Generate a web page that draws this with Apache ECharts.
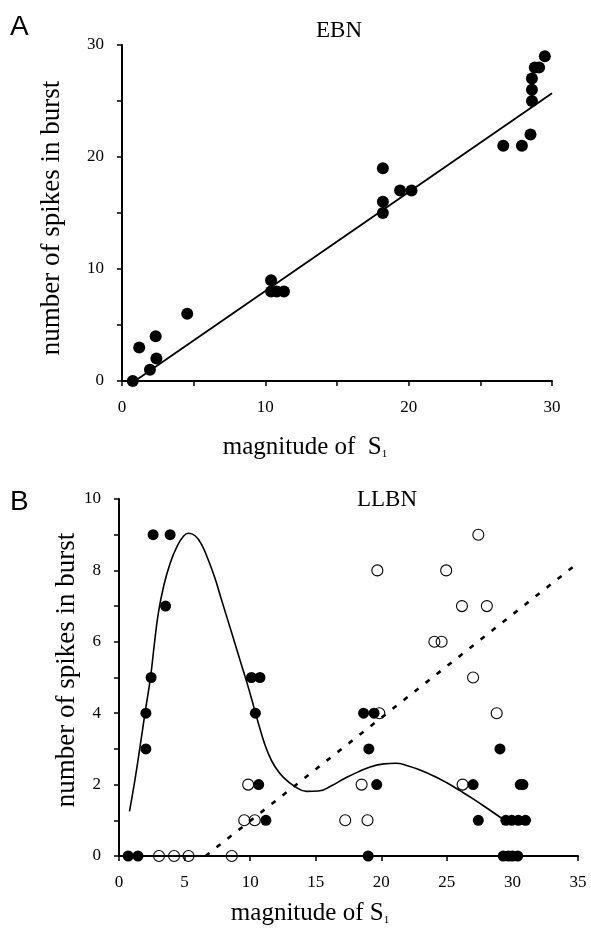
<!DOCTYPE html>
<html>
<head>
<meta charset="utf-8">
<script src="https://cdn.jsdelivr.net/npm/echarts@6/dist/echarts.min.js"></script>
<style>html,body{margin:0;padding:0;background:#fff;}#c{width:591px;height:929px;}</style>
</head>
<body>
<div id="c"></div>
<script>
// ---------- Panel A (EBN) ----------
var ebnPoints = [[0.75,0],[1.2,3],[1.95,1],[2.35,4],[2.4,2],[4.55,6],[10.4,9],[10.4,8],[10.8,8],[11.3,8],
  [18.2,19],[18.2,16],[18.2,15],[19.4,17],[20.2,17],[26.6,21],[27.9,21],[28.5,22],[28.6,25],[28.6,26],
  [28.6,27],[28.8,28],[29.1,28],[29.5,29]];
var ebnFit = [[0.9,0],[30,25.7]];
var ebnXTicks = [0,10,20,30];
var ebnYTicks = [0,10,20,30];

// ---------- Panel B (LLBN) ----------
var llbnFilled = [[0.7,0],[1.45,0],[2.05,3],[2.05,4],[2.45,5],[3.55,7],[2.6,9],[3.9,9],[10.1,5],[10.75,5],
  [10.4,4],[10.65,2],[11.2,1],[18.65,4],[19.45,4],[19.05,3],[19.65,2],[19.0,0],[27.0,2],[27.4,1],
  [29.05,3],[29.5,1],[29.95,1],[30.45,1],[31.0,1],[30.6,2],[30.8,2],[29.3,0],[29.7,0],[30.0,0],[30.4,0]];
var llbnOpen = [[3.05,0],[4.2,0],[5.3,0],[8.6,0],[9.55,1],[10.35,1],[9.85,2],[17.25,1],[18.95,1],[18.5,2],
  [26.2,2],[19.85,4],[28.8,4],[27.0,5],[24.05,6],[24.6,6],[26.15,7],[28.05,7],[19.7,8],[24.95,8],[27.4,9]];
var llbnCurve = [[0.8,1.25],[1.2,2.1],[1.6,3.05],[2.0,4.05],[2.4,5.0],[2.7,5.95],[3.0,6.8],[3.4,7.55],
  [3.9,8.2],[4.4,8.65],[4.9,8.95],[5.3,9.04],[5.8,8.97],[6.3,8.72],[6.8,8.3],[7.3,7.8],[7.8,7.2],
  [8.3,6.6],[8.8,6.0],[9.3,5.4],[9.8,4.8],[10.3,4.15],[10.8,3.5],[11.3,2.95],[11.9,2.5],[12.6,2.18],
  [13.4,1.95],[14.3,1.81],[15.2,1.82],[16.2,1.97],[17.2,2.17],[18.2,2.35],[19.2,2.5],[20.2,2.58],
  [21.1,2.6],[22.0,2.53],[23.0,2.4],[24.0,2.24],[25.0,2.05],[26.0,1.83],[27.0,1.6],[28.1,1.33],[29.2,1.05]];
var llbnDashed = [[6.6,0],[34.8,8.15]];
var llbnXTicks = [0,5,10,15,20,25,30,35];
var llbnYTicks = [0,2,4,6,8,10];

var SERIF = 'Liberation Serif';
function labelFmt(list){ return function(v){ return list.indexOf(v) >= 0 ? String(v) : ''; }; }

function axisBase(){
  return {
    type: 'value',
    axisLine: {show: true, onZero: false, lineStyle: {color: '#000', width: 2}},
    axisTick: {show: true, inside: false, length: 5, lineStyle: {color: '#000', width: 1.5}},
    splitLine: {show: false},
    axisLabel: {color: '#000', fontFamily: SERIF, fontSize: 17, margin: 18}
  };
}

var xA = axisBase(); Object.assign(xA, {gridIndex: 0, min: 0, max: 30, interval: 5});
xA.axisLabel.formatter = labelFmt(ebnXTicks);
var yA = axisBase(); Object.assign(yA, {gridIndex: 0, min: 0, max: 30, interval: 5});
yA.axisLabel.formatter = labelFmt(ebnYTicks);
var xB = axisBase(); Object.assign(xB, {gridIndex: 1, min: 0, max: 35, interval: 5});
xB.axisLabel.formatter = labelFmt(llbnXTicks);
var yB = axisBase(); Object.assign(yB, {gridIndex: 1, min: 0, max: 10, interval: 1});
yB.axisLabel.formatter = labelFmt(llbnYTicks);

var chart = echarts.init(document.getElementById('c'), null, {renderer: 'canvas'});
chart.setOption({
  animation: false,
  backgroundColor: '#fff',
  grid: [
    {left: 122, top: 45, width: 430, height: 336, outerBoundsMode: 'none'},
    {left: 119, top: 499, width: 459, height: 357, outerBoundsMode: 'none'}
  ],
  xAxis: [xA, xB],
  yAxis: [yA, yB],
  graphic: [
    {type: 'text', x: 10, y: 13, style: {text: 'A', font: '28px "Liberation Sans"', fill: '#000'}},
    {type: 'text', x: 339, y: 31, style: {text: 'EBN', font: '23px "Liberation Serif"', fill: '#000', align: 'center', verticalAlign: 'middle'}},
    {type: 'text', x: 10, y: 488, style: {text: 'B', font: '28px "Liberation Sans"', fill: '#000'}},
    {type: 'text', x: 387, y: 500, style: {text: 'LLBN', font: '23px "Liberation Serif"', fill: '#000', align: 'center', verticalAlign: 'middle'}},
    {type: 'text', x: 52, y: 218, rotation: Math.PI / 2,
      style: {text: 'number of spikes in burst', font: '27px "Liberation Serif"', fill: '#000', align: 'center', verticalAlign: 'middle'}},
    {type: 'text', x: 67, y: 670, rotation: Math.PI / 2,
      style: {text: 'number of spikes in burst', font: '27px "Liberation Serif"', fill: '#000', align: 'center', verticalAlign: 'middle'}},
    {type: 'text', x: 305, y: 447,
      style: {text: '{m|magnitude of  S}{s|1}', fill: '#000', align: 'center', verticalAlign: 'middle',
        rich: {m: {fontFamily: SERIF, fontSize: 25, color: '#000'}, s: {fontFamily: SERIF, fontSize: 11, color: '#000', verticalAlign: 'bottom'}}}},
    {type: 'text', x: 310, y: 913,
      style: {text: '{m|magnitude of S}{s|1}', fill: '#000', align: 'center', verticalAlign: 'middle',
        rich: {m: {fontFamily: SERIF, fontSize: 25, color: '#000'}, s: {fontFamily: SERIF, fontSize: 11, color: '#000', verticalAlign: 'bottom'}}}}
  ],
  series: [
    {type: 'line', xAxisIndex: 0, yAxisIndex: 0, data: ebnFit, showSymbol: false, symbol: 'none',
      lineStyle: {color: '#000', width: 1.8}, z: 2},
    {type: 'scatter', xAxisIndex: 0, yAxisIndex: 0, data: ebnPoints, symbol: 'circle', symbolSize: 12,
      itemStyle: {color: '#000', opacity: 1}, z: 3},
    {type: 'line', xAxisIndex: 1, yAxisIndex: 1, data: llbnCurve, smooth: 0.5, showSymbol: false, symbol: 'none',
      lineStyle: {color: '#000', width: 1.6}, z: 2},
    {type: 'line', xAxisIndex: 1, yAxisIndex: 1, data: llbnDashed, showSymbol: false, symbol: 'none',
      lineStyle: {color: '#000', width: 2.6, type: [5, 9]}, z: 2},
    {type: 'scatter', xAxisIndex: 1, yAxisIndex: 1, data: llbnOpen, symbol: 'circle', symbolSize: 11,
      itemStyle: {color: 'rgba(255,255,255,0)', borderColor: '#000', borderWidth: 1.1, opacity: 1}, z: 3},
    {type: 'scatter', xAxisIndex: 1, yAxisIndex: 1, data: llbnFilled, symbol: 'circle', symbolSize: 11,
      itemStyle: {color: '#000', opacity: 1}, z: 4}
  ]
});
</script>
</body>
</html>
